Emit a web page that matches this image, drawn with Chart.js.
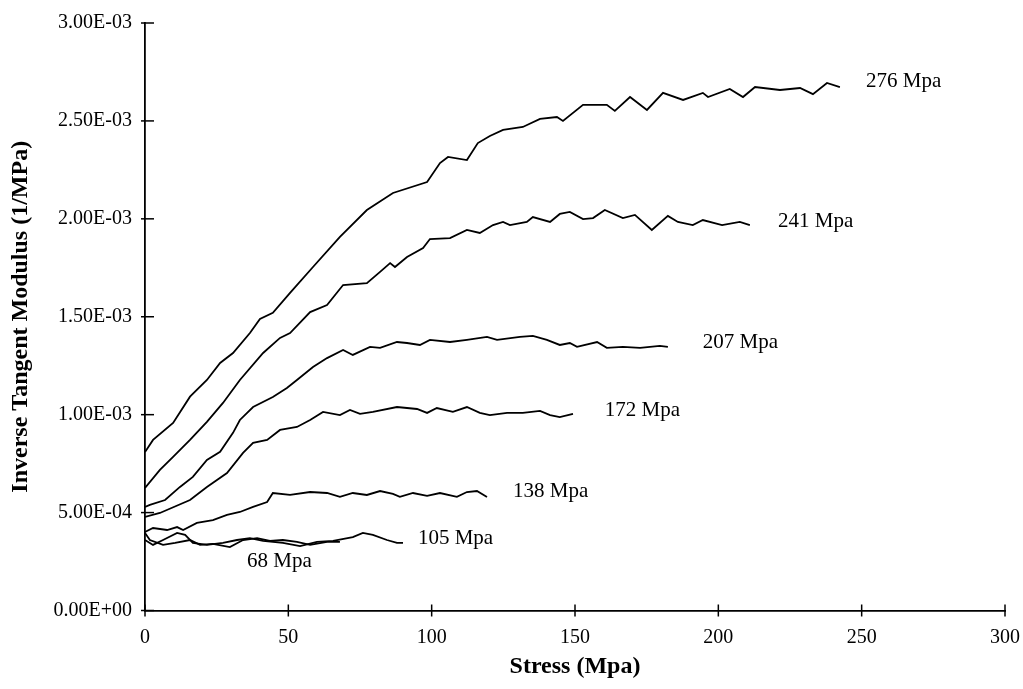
<!DOCTYPE html>
<html><head><meta charset="utf-8">
<script src="https://cdn.jsdelivr.net/npm/chart.js@4.4.1/dist/chart.umd.min.js"></script>
<style>html,body{margin:0;padding:0;background:#fff;} #wrap{width:1023px;height:689px;}</style>
</head><body><div id="wrap"><canvas id="c" width="1023" height="689"></canvas></div>
<script>
// ---------- DATA ----------
const xTickValues = [0, 50, 100, 150, 200, 250, 300];
const xTickLabels = ['0', '50', '100', '150', '200', '250', '300'];
const yTickValues = [0, 5e-4, 1e-3, 1.5e-3, 2e-3, 2.5e-3, 3e-3];
const yTickLabels = ['0.00E+00', '5.00E-04', '1.00E-03', '1.50E-03', '2.00E-03', '2.50E-03', '3.00E-03'];
const seriesNames = ['276 Mpa', '241 Mpa', '207 Mpa', '172 Mpa', '138 Mpa', '105 Mpa', '68 Mpa'];

const s276x = [0, 2.8, 9.8, 15.7, 21.6, 26.2, 30.7, 36.6, 40.1, 44.6, 50.6, 58.6, 68.0, 77.4, 86.5, 98.4, 102.9, 105.7, 112.3, 116.1, 120.3, 124.9, 131.8, 137.8, 143.7, 145.8, 152.8, 161.1, 163.9, 169.2, 175.1, 180.7, 187.7, 194.6, 196.4, 204.0, 208.6, 212.8, 221.5, 228.5, 233.0, 237.9, 242.4];
const s276y = [8.09e-4, 8.71e-4, 9.58e-4, 1.092e-3, 1.177e-3, 1.264e-3, 1.315e-3, 1.417e-3, 1.489e-3, 1.520e-3, 1.622e-3, 1.754e-3, 1.908e-3, 2.045e-3, 2.132e-3, 2.188e-3, 2.285e-3, 2.316e-3, 2.300e-3, 2.387e-3, 2.423e-3, 2.454e-3, 2.469e-3, 2.510e-3, 2.520e-3, 2.500e-3, 2.582e-3, 2.582e-3, 2.551e-3, 2.622e-3, 2.556e-3, 2.643e-3, 2.607e-3, 2.643e-3, 2.622e-3, 2.663e-3, 2.622e-3, 2.673e-3, 2.658e-3, 2.668e-3, 2.637e-3, 2.694e-3, 2.673e-3];

const s241x = [0, 5.2, 9.8, 15.7, 21.6, 27.2, 33.1, 41.2, 47.1, 50.6, 57.6, 63.5, 69.1, 77.4, 82.0, 85.5, 87.2, 91.4, 97.0, 99.4, 106.4, 112.3, 116.8, 121.4, 124.9, 127.3, 133.2, 135.3, 141.3, 144.7, 148.2, 152.8, 156.3, 160.4, 166.7, 170.9, 176.8, 182.4, 185.9, 191.1, 194.6, 201.3, 207.5, 211.0];
const s241y = [6.26e-4, 7.18e-4, 7.84e-4, 8.71e-4, 9.63e-4, 1.060e-3, 1.177e-3, 1.315e-3, 1.392e-3, 1.417e-3, 1.524e-3, 1.560e-3, 1.662e-3, 1.672e-3, 1.729e-3, 1.774e-3, 1.754e-3, 1.805e-3, 1.851e-3, 1.897e-3, 1.902e-3, 1.943e-3, 1.928e-3, 1.968e-3, 1.984e-3, 1.968e-3, 1.984e-3, 2.009e-3, 1.984e-3, 2.025e-3, 2.035e-3, 1.999e-3, 2.004e-3, 2.045e-3, 2.004e-3, 2.020e-3, 1.943e-3, 2.015e-3, 1.984e-3, 1.968e-3, 1.994e-3, 1.968e-3, 1.984e-3, 1.968e-3];

const s207x = [0, 1.7, 7.0, 12.2, 16.7, 21.6, 26.2, 30.7, 33.1, 37.7, 44.6, 49.5, 53.0, 58.6, 63.5, 69.1, 72.5, 78.5, 82.0, 87.9, 91.4, 95.9, 99.4, 106.4, 112.3, 119.3, 122.8, 130.8, 135.3, 140.2, 144.7, 148.2, 150.7, 157.7, 161.1, 166.7, 172.7, 179.6, 182.4];
const s207y = [5.29e-4, 5.39e-4, 5.64e-4, 6.31e-4, 6.82e-4, 7.69e-4, 8.10e-4, 9.07e-4, 9.73e-4, 1.039e-3, 1.090e-3, 1.136e-3, 1.177e-3, 1.243e-3, 1.289e-3, 1.330e-3, 1.305e-3, 1.346e-3, 1.341e-3, 1.371e-3, 1.366e-3, 1.356e-3, 1.382e-3, 1.371e-3, 1.382e-3, 1.397e-3, 1.382e-3, 1.397e-3, 1.402e-3, 1.382e-3, 1.356e-3, 1.366e-3, 1.346e-3, 1.371e-3, 1.341e-3, 1.346e-3, 1.341e-3, 1.351e-3, 1.346e-3];

const s172x = [0, 5.2, 15.7, 21.6, 28.6, 34.2, 37.7, 42.6, 47.1, 53.0, 57.6, 62.1, 68.0, 71.5, 75.0, 79.5, 87.9, 91.4, 94.9, 98.4, 101.8, 107.4, 112.3, 116.8, 120.3, 126.3, 131.8, 137.8, 141.3, 144.7, 149.3];
const s172y = [4.78e-4, 4.98e-4, 5.64e-4, 6.31e-4, 7.02e-4, 8.05e-4, 8.56e-4, 8.71e-4, 9.22e-4, 9.37e-4, 9.73e-4, 1.014e-3, 9.98e-4, 1.024e-3, 1.004e-3, 1.014e-3, 1.039e-3, 1.034e-3, 1.029e-3, 1.009e-3, 1.034e-3, 1.014e-3, 1.039e-3, 1.009e-3, 9.98e-4, 1.009e-3, 1.009e-3, 1.019e-3, 9.98e-4, 9.88e-4, 1.004e-3];

const s138x = [0, 2.8, 7.7, 11.2, 13.3, 18.1, 23.7, 28.6, 33.1, 37.7, 42.6, 44.6, 50.6, 57.6, 63.5, 68.0, 72.5, 77.4, 82.0, 86.5, 88.9, 93.5, 98.4, 102.9, 108.8, 112.3, 115.8, 119.3];
const s138y = [4.01e-4, 4.21e-4, 4.11e-4, 4.26e-4, 4.11e-4, 4.47e-4, 4.62e-4, 4.88e-4, 5.03e-4, 5.29e-4, 5.54e-4, 6.00e-4, 5.90e-4, 6.05e-4, 6.00e-4, 5.80e-4, 6.00e-4, 5.90e-4, 6.10e-4, 5.95e-4, 5.80e-4, 6.00e-4, 5.85e-4, 6.00e-4, 5.80e-4, 6.05e-4, 6.10e-4, 5.80e-4];

const s105x = [0, 2.8, 6.3, 11.2, 14.0, 16.7, 21.6, 27.2, 32.1, 36.6, 41.2, 48.1, 54.1, 60.0, 65.6, 72.5, 76.0, 79.5, 84.4, 87.9, 90.0];
const s105y = [3.60e-4, 3.35e-4, 3.60e-4, 3.96e-4, 3.86e-4, 3.45e-4, 3.35e-4, 3.45e-4, 3.60e-4, 3.70e-4, 3.55e-4, 3.45e-4, 3.29e-4, 3.50e-4, 3.55e-4, 3.75e-4, 3.96e-4, 3.86e-4, 3.60e-4, 3.45e-4, 3.45e-4];

const s68x = [0, 1.7, 6.3, 10.5, 15.7, 19.2, 23.7, 29.6, 34.2, 39.1, 43.6, 48.1, 53.0, 57.6, 63.5, 68.0];
const s68y = [3.96e-4, 3.60e-4, 3.35e-4, 3.45e-4, 3.60e-4, 3.35e-4, 3.40e-4, 3.24e-4, 3.60e-4, 3.70e-4, 3.55e-4, 3.60e-4, 3.50e-4, 3.35e-4, 3.50e-4, 3.50e-4];

// ---------- CHART ----------
const xs = [s276x, s241x, s207x, s172x, s138x, s105x, s68x];
const ys = [s276y, s241y, s207y, s172y, s138y, s105y, s68y];
const FONT = '"Liberation Serif", "Times New Roman", serif';

// label anchors in data coordinates (left edge, vertical middle)
const labelAnchors = [
  [251.5, 2.70e-3], [220.8, 1.984e-3], [194.6, 1.371e-3], [160.4, 1.019e-3],
  [128.4, 6.10e-4], [95.2, 3.70e-4], [35.6, 2.48e-4]
];

const datasets = seriesNames.map((name, i) => ({
  label: name,
  data: xs[i].map((x, j) => ({x: x, y: ys[i][j]})),
  borderColor: '#000',
  backgroundColor: '#000',
  borderWidth: 1.8,
  pointRadius: 0,
  showLine: true,
  tension: 0,
  fill: false
}));

const overlay = {
  id: 'overlay',
  afterDraw(chart) {
    const ctx = chart.ctx;
    const xS = chart.scales.x, yS = chart.scales.y;
    ctx.save();
    ctx.strokeStyle = '#000';
    ctx.lineWidth = 1.5;
    yTickValues.forEach(v => {
      const py = yS.getPixelForValue(v);
      ctx.beginPath(); ctx.moveTo(xS.left - 4, py); ctx.lineTo(xS.left + 9, py); ctx.stroke();
    });
    xTickValues.forEach(v => {
      const px = xS.getPixelForValue(v);
      ctx.beginPath(); ctx.moveTo(px, yS.bottom - 6); ctx.lineTo(px, yS.bottom + 6); ctx.stroke();
    });
    ctx.fillStyle = '#000';
    ctx.font = '21px ' + FONT;
    ctx.textAlign = 'left';
    ctx.textBaseline = 'middle';
    seriesNames.forEach((name, i) => {
      const a = labelAnchors[i];
      ctx.fillText(name, xS.getPixelForValue(a[0]), yS.getPixelForValue(a[1]));
    });
    ctx.restore();
  }
};

new Chart(document.getElementById('c'), {
  type: 'scatter',
  data: { datasets },
  options: {
    responsive: false,
    animation: false,
    devicePixelRatio: 1,
    layout: { padding: { top: 23, right: 18, bottom: 0, left: 0 } },
    plugins: { legend: { display: false }, tooltip: { enabled: false } },
    scales: {
      x: {
        type: 'linear',
        min: 0, max: 300,
        afterFit: s => { s.height = 78.5; s.paddingLeft = 0; s.paddingRight = 0; },
        afterBuildTicks: s => { s.ticks = xTickValues.map(v => ({value: v})); },
        grid: { display: true, drawOnChartArea: false, drawTicks: false },
        border: { display: true, color: '#000', width: 1.8 },
        ticks: {
          padding: 15, color: '#000',
          font: { family: FONT, size: 20 },
          maxRotation: 0,
          callback: (v, i) => xTickLabels[i]
        },
        title: {
          display: true, text: 'Stress (Mpa)', color: '#000',
          font: { family: FONT, size: 24, weight: 'bold' },
          padding: { top: 0, bottom: 8 }
        }
      },
      y: {
        type: 'linear',
        min: 0, max: 3e-3,
        afterFit: s => { s.width = 145; s.paddingTop = 0; s.paddingBottom = 0; },
        afterBuildTicks: s => { s.ticks = yTickValues.map(v => ({value: v})); },
        grid: { display: true, drawOnChartArea: false, drawTicks: false },
        border: { display: true, color: '#000', width: 1.8 },
        ticks: {
          padding: 13, color: '#000',
          font: { family: FONT, size: 20 },
          callback: (v, i) => yTickLabels[i]
        },
        title: {
          display: true, text: 'Inverse Tangent Modulus (1/MPa)', color: '#000',
          font: { family: FONT, size: 24, weight: 'bold' },
          padding: { top: 6, bottom: 0 }
        }
      }
    }
  },
  plugins: [overlay]
});
</script>
</body></html>
